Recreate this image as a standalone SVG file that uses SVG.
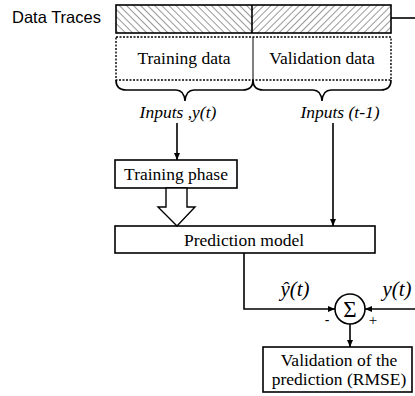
<svg xmlns="http://www.w3.org/2000/svg" width="415" height="396" viewBox="0 0 415 396">
<defs>
<pattern id="hatchFwd" patternUnits="userSpaceOnUse" width="5" height="5" patternTransform="rotate(45)">
<line x1="0" y1="0" x2="0" y2="5" stroke="#000" stroke-width="0.8"/>
</pattern>
<pattern id="hatchBack" patternUnits="userSpaceOnUse" width="5" height="5" patternTransform="rotate(-45)">
<line x1="0" y1="0" x2="0" y2="5" stroke="#000" stroke-width="0.8"/>
</pattern>
<marker id="arr" markerWidth="8" markerHeight="8" refX="7" refY="4" orient="auto" markerUnits="userSpaceOnUse">
<path d="M0,1 L7,4 L0,7 Z" fill="#000"/>
</marker>
</defs>
<style>
.t{font-family:"Liberation Serif","Times New Roman",serif;font-size:17.5px;fill:#000;text-anchor:middle}
.i{font-style:italic}
.box{fill:#fff;stroke:#000;stroke-width:1.6}
.ln{fill:none;stroke:#000;stroke-width:1.6}
</style>
<rect width="415" height="396" fill="#fff"/>
<g id="data-traces">
<text x="12" y="23" style="font-family:'Liberation Sans',Arial,sans-serif;font-size:16.5px">Data Traces</text>
<rect x="116" y="5" width="136" height="28" fill="url(#hatchBack)"/>
<rect x="252" y="5" width="139" height="28" fill="url(#hatchFwd)"/>
<rect x="116" y="5" width="275" height="28" class="ln"/>
<line x1="252" y1="5" x2="252" y2="33" class="ln"/>
</g>
<g id="data-split">
<rect x="116" y="37" width="275" height="43" fill="none" stroke="#000" stroke-width="1.4" stroke-dasharray="2,1.5"/>
<line x1="253" y1="37" x2="253" y2="80" stroke="#000" stroke-width="1"/>
<text class="t" x="184" y="64">Training data</text>
<text class="t" x="322" y="64">Validation data</text>
<path class="ln" stroke-width="1.2" d="M116,80 Q116,90 126,90 L176,90 Q184,90 185,101 Q186,90 194,90 L243,90 Q253,90 253,80"/>
<path class="ln" stroke-width="1.2" d="M253,80 Q253,90 263,90 L313,90 Q321,90 322,101 Q323,90 331,90 L381,90 Q391,90 391,80"/>
</g>
<g id="inputs-labels">
<text class="t i" x="178" y="118">Inputs ,y(t)</text>
<text class="t i" x="340" y="118">Inputs (t-1)</text>
</g>
<g id="training-phase">
<rect class="box" x="115" y="160" width="122" height="28"/>
<text class="t" x="176" y="180">Training phase</text>
</g>
<g id="prediction-model">
<rect class="box" x="115" y="226" width="260" height="27"/>
<text class="t" x="244" y="246">Prediction model</text>
</g>
<g id="sum">
<circle cx="350" cy="309" r="15" fill="#fff" stroke="#000" stroke-width="1.6"/>
<text class="t" x="350" y="317" style="font-size:23px">Σ</text>
<text class="t" x="327" y="325" style="font-family:'Liberation Sans',Arial,sans-serif;font-size:14px">-</text>
<text class="t" x="373" y="325" style="font-size:15px">+</text>
</g>
<g id="validation">
<rect class="box" x="263" y="347" width="149" height="45"/>
<text class="t" x="339" y="366">Validation of the</text>
<text class="t" x="339" y="385">prediction (RMSE)</text>
</g>
<g id="connectors">
<line class="ln" x1="391" y1="18" x2="415" y2="18"/>
<line class="ln" x1="177" y1="123" x2="177" y2="160" marker-end="url(#arr)"/>
<line class="ln" x1="333" y1="123" x2="333" y2="226" marker-end="url(#arr)"/>
<polygon points="166,188 187,188 187,207 195,207 177,226 158,207 166,207" fill="#fff" stroke="#000" stroke-width="1.4"/>
<polyline class="ln" points="244,253 244,309 335,309" marker-end="url(#arr)"/>
<line class="ln" x1="415" y1="309" x2="365" y2="309" marker-end="url(#arr)"/>
<line class="ln" x1="350" y1="324" x2="350" y2="347" marker-end="url(#arr)"/>
<text class="t i" x="295" y="296" style="font-size:21px">ŷ(t)</text>
<text class="t i" x="397" y="296" style="font-size:21px">y(t)</text>
</g>
</svg>
